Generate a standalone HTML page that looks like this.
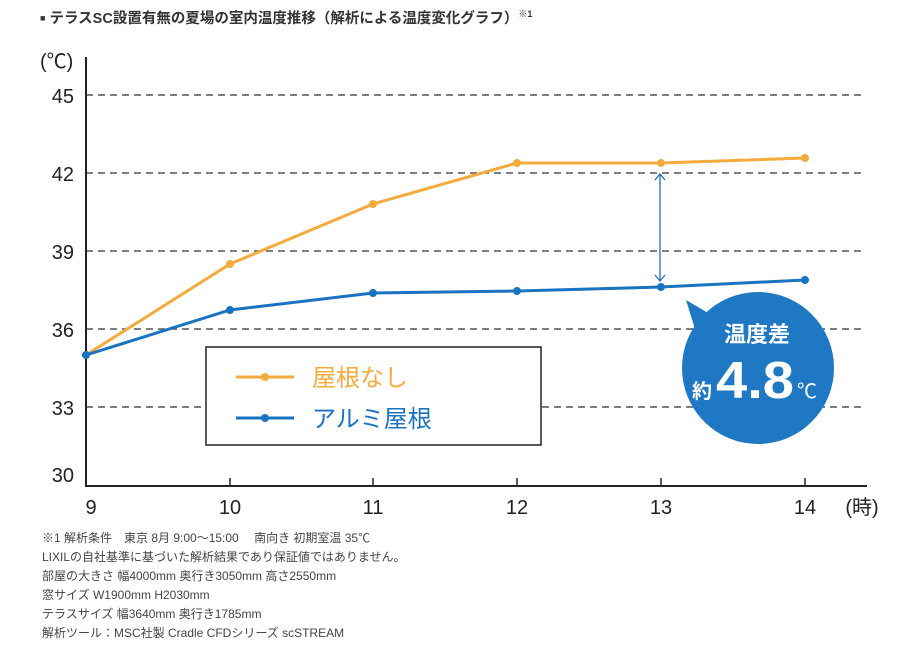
<!DOCTYPE html><html><head><meta charset="utf-8"><style>
body{margin:0;background:#fff;width:919px;height:657px;overflow:hidden;font-family:"Liberation Sans","Noto Sans CJK JP",sans-serif}
.t{position:absolute;left:40px;top:7px;font-size:14.5px;color:#333;font-weight:bold}
.n{position:absolute;left:42px;top:529px;font-size:12px;color:#444;line-height:19px}
</style></head><body>
<div class="t"><span style="font-size:9px;vertical-align:2px">■</span> テラスSC設置有無の夏場の室内温度推移（解析による温度変化グラフ）<sup style="font-size:9px">※1</sup></div>
<svg width="919" height="657" style="position:absolute;left:0;top:0" font-family="Liberation Sans, Noto Sans CJK JP, sans-serif">
<g stroke="#555" stroke-width="1.5" stroke-dasharray="7,5">
<line x1="86" y1="95" x2="865" y2="95"/><line x1="86" y1="173" x2="865" y2="173"/><line x1="86" y1="251" x2="865" y2="251"/><line x1="86" y1="329" x2="865" y2="329"/><line x1="86" y1="407" x2="865" y2="407"/>
</g>
<line x1="86" y1="57" x2="86" y2="487" stroke="#222" stroke-width="2"/>
<line x1="85" y1="486" x2="867" y2="486" stroke="#222" stroke-width="2"/>
<g stroke="#222" stroke-width="1.5"><line x1="230" y1="478" x2="230" y2="486"/><line x1="373" y1="478" x2="373" y2="486"/><line x1="517" y1="478" x2="517" y2="486"/><line x1="661" y1="478" x2="661" y2="486"/><line x1="805" y1="478" x2="805" y2="486"/></g>
<g font-size="20" fill="#222" text-anchor="end"><text x="74" y="103">45</text><text x="74" y="181">42</text><text x="74" y="259">39</text><text x="74" y="337">36</text><text x="74" y="415">33</text><text x="74" y="482">30</text></g>
<text x="40" y="68" font-size="20" fill="#222">(℃)</text>
<g font-size="20" fill="#222" text-anchor="middle"><text x="91" y="514">9</text><text x="230" y="514">10</text><text x="373" y="514">11</text><text x="517" y="514">12</text><text x="661" y="514">13</text><text x="805" y="514">14</text><text x="862" y="514">(時)</text></g>
<polyline points="86,355 230,264 373,204 517,163 661,163 805,158" fill="none" stroke="#f5ab3c" stroke-width="3"/>
<g fill="#f5ab3c"><circle cx="86" cy="355" r="4"/><circle cx="230" cy="264" r="4"/><circle cx="373" cy="204" r="4"/><circle cx="517" cy="163" r="4"/><circle cx="661" cy="163" r="4"/><circle cx="805" cy="158" r="4"/></g>
<polyline points="86,355 230,310 373,293 517,291 661,287 805,280" fill="none" stroke="#1a73c0" stroke-width="3"/>
<g fill="#1a73c0"><circle cx="86" cy="355" r="4"/><circle cx="230" cy="310" r="4"/><circle cx="373" cy="293" r="4"/><circle cx="517" cy="291" r="4"/><circle cx="661" cy="287" r="4"/><circle cx="805" cy="280" r="4"/></g>
<g stroke="#1a73c0" stroke-width="1.3" fill="none"><line x1="660" y1="174" x2="660" y2="281"/><polyline points="655,180 660,174 665,180"/><polyline points="655,275 660,281 665,275"/></g>
<rect x="206" y="347" width="335" height="98" fill="#fff" stroke="#222" stroke-width="1.5"/>
<line x1="236" y1="377" x2="294" y2="377" stroke="#f5ab3c" stroke-width="3"/><circle cx="265" cy="377" r="4" fill="#f5ab3c"/>
<text x="312" y="386" font-size="24" fill="#f5ab3c">屋根なし</text>
<line x1="236" y1="418" x2="294" y2="418" stroke="#1a73c0" stroke-width="3"/><circle cx="265" cy="418" r="4" fill="#1a73c0"/>
<text x="312" y="427" font-size="24" fill="#1a73c0">アルミ屋根</text>
<polygon points="686,300 720,320 700,345" fill="#1f78c4"/>
<circle cx="758" cy="368" r="76" fill="#1f78c4"/>
<text x="757" y="342" font-size="22" fill="#fff" font-weight="bold" text-anchor="middle">温度差</text>
<text x="692" y="398" font-size="20" fill="#fff" font-weight="bold">約</text>
<text x="716" y="398" font-size="52" fill="#fff" font-weight="bold" textLength="78" lengthAdjust="spacingAndGlyphs">4.8</text>
<text x="797" y="398" font-size="20" fill="#fff">℃</text>
</svg>
<div class="n">※1 解析条件　東京 8月 9:00～15:00　 南向き 初期室温 35℃<br>LIXILの自社基準に基づいた解析結果であり保証値ではありません。<br>部屋の大きさ 幅4000mm 奥行き3050mm 高さ2550mm<br>窓サイズ W1900mm H2030mm<br>テラスサイズ 幅3640mm 奥行き1785mm<br>解析ツール：MSC社製 Cradle CFDシリーズ scSTREAM</div>
</body></html>
